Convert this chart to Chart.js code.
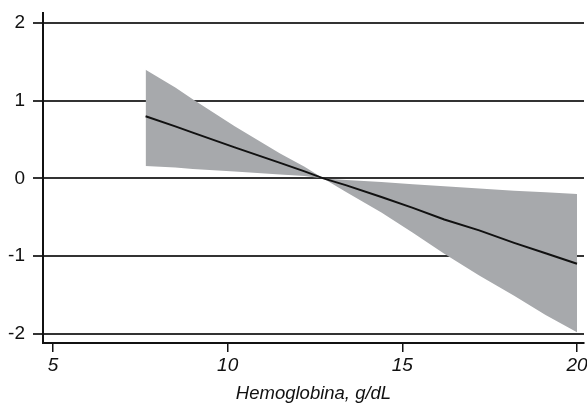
<!DOCTYPE html>
<html lang="es">
<head>
<meta charset="UTF-8">
<title>Hemoglobina</title>
<style>
    html, body { margin: 0; padding: 0; background: #fff; }
    .chart-container { position: relative; width: 587px; height: 406px; }
</style>
</head>
<body>
<div class="chart-container">
    <canvas id="myChart" width="587" height="406"></canvas>
</div>

<script src="https://cdn.jsdelivr.net/npm/chart.js@4.4.1/dist/chart.umd.min.js"></script>
<script>
    // Values
    const hb    = [7.65, 8.5, 9.0, 10.2, 11.5, 12.2, 12.74, 13.4, 14.4, 15.3, 16.2, 17.2, 18.2, 19.1, 20];
    const upper = [1.40, 1.17, 1.02, 0.67, 0.32, 0.15, 0.0, -0.02, -0.045, -0.075, -0.10, -0.13, -0.16, -0.18, -0.20];
    const lower = [0.16, 0.14, 0.12, 0.09, 0.05, 0.03, 0.0, -0.18, -0.44, -0.70, -0.97, -1.25, -1.51, -1.76, -1.98];
    const fit   = [0.80, 0.67, 0.59, 0.40, 0.20, 0.09, 0.0, -0.09, -0.24, -0.38, -0.53, -0.67, -0.83, -0.965, -1.10];
    const xTicks = [5, 10, 15, 20];
    const yTicks = [-2, -1, 0, 1, 2];
    const xTitle = 'Hemoglobina, g/dL';

    const pts = ys => hb.map((x, i) => ({ x: x, y: ys[i] }));
    const sans = "'Liberation Sans', Arial, sans-serif";

    new Chart(document.getElementById('myChart'), {
        type: 'scatter',
        data: {
            datasets: [{
                data: pts(fit),
                showLine: true,
                borderColor: '#111',
                borderWidth: 2,
                pointRadius: 0,
                fill: false
            }, {
                data: pts(upper),
                showLine: true,
                borderWidth: 0,
                borderColor: 'rgba(0,0,0,0)',
                backgroundColor: '#a7a9ac',
                pointRadius: 0,
                fill: '+1'
            }, {
                data: pts(lower),
                showLine: true,
                borderWidth: 0,
                borderColor: 'rgba(0,0,0,0)',
                pointRadius: 0,
                fill: false
            }]
        },
        options: {
            responsive: false,
            animation: false,
            layout: { padding: { top: 13, right: 3, left: 0, bottom: 0 } },
            plugins: { legend: { display: false }, tooltip: { enabled: false } },
            scales: {
                x: {
                    type: 'linear',
                    min: 4.713,
                    max: 20.2,
                    afterBuildTicks: s => { s.ticks = xTicks.map(v => ({ value: v })); },
                    afterFit: s => { s.height = 63; s.paddingLeft = 0; s.paddingRight = 0; },
                    grid: { drawOnChartArea: false, drawTicks: true, tickLength: 9, color: '#111', lineWidth: 1.5 },
                    border: { display: true, color: '#111', width: 2 },
                    ticks: {
                        color: '#111',
                        padding: 2,
                        maxRotation: 0,
                        font: { family: sans, size: 19, style: 'italic' }
                    },
                    title: {
                        display: true,
                        text: xTitle,
                        color: '#111',
                        padding: { top: 0, bottom: 1 },
                        font: { family: sans, size: 18.5, style: 'italic' }
                    }
                },
                y: {
                    min: -2.12,
                    max: 2.13,
                    z: 1,
                    afterBuildTicks: s => { s.ticks = yTicks.map(v => ({ value: v })); },
                    afterFit: s => { s.width = 43; s.paddingTop = 0; s.paddingBottom = 0; },
                    grid: { color: '#333', lineWidth: 2, tickLength: 10 },
                    border: { display: true, color: '#111', width: 2 },
                    ticks: {
                        color: '#111',
                        padding: 8,
                        font: { family: sans, size: 19 }
                    }
                }
            }
        }
    });
</script>
</body>
</html>
